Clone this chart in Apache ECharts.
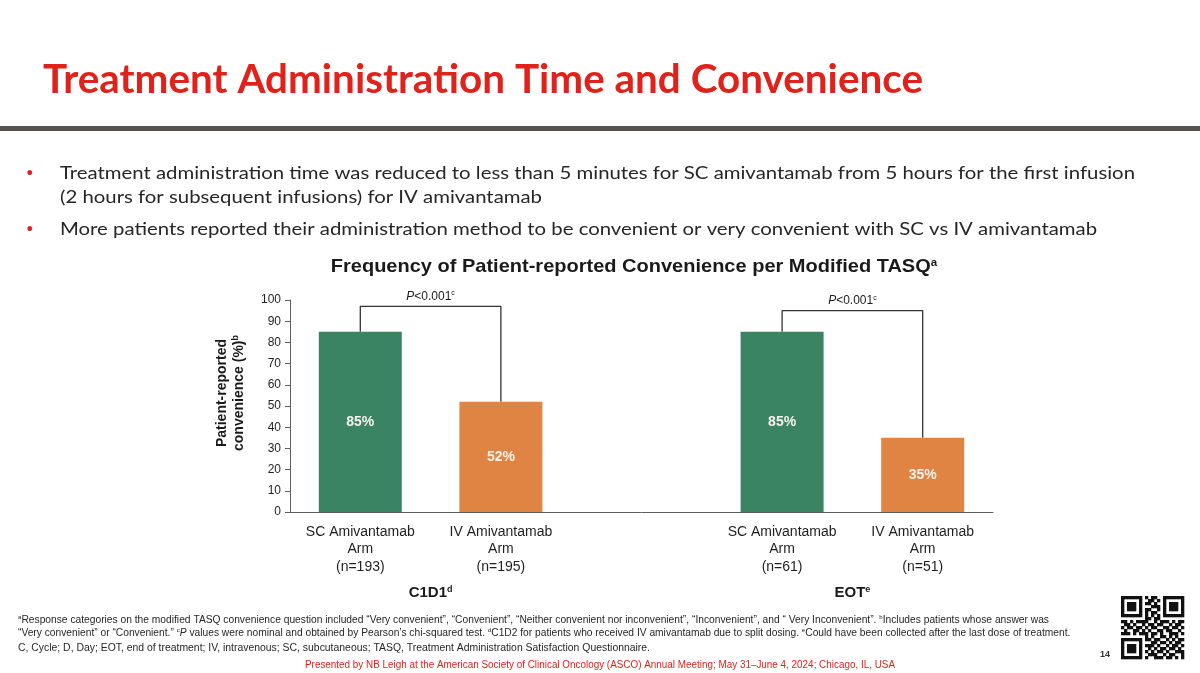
<!DOCTYPE html>
<html>
<head>
<meta charset="utf-8">
<script src="https://cdn.jsdelivr.net/npm/echarts@6/dist/echarts.min.js"></script>
<style>
html,body{margin:0;padding:0;background:#fff;}
#c{width:1200px;height:673px;}
</style>
</head>
<body>
<div id="c"></div>
<script>
// ---- data ----
const timepoints = ['C1D1', 'EOT'];
const timepointSup = ['d', 'e'];
const armNames = ['SC Amivantamab', 'IV Amivantamab'];
const nSC = [193, 61];
const nIV = [195, 51];
const scValues = [85, 85];
const ivValues = [52, 35];
const bracketLevels = [97, 95];
const pText = ['P<0.001', 'P<0.001'];
const yMin = 0, yMax = 100, yStep = 10;

// ---- build categories (with an empty spacer slot between time points) ----
const categories = [];
const scData = [];
const ivData = [];
timepoints.forEach((tp, g) => {
  if (g > 0) { categories.push(''); scData.push('-'); ivData.push('-'); }
  categories.push(armNames[0] + '\nArm\n(n=' + nSC[g] + ')');
  scData.push(scValues[g]); ivData.push('-');
  categories.push(armNames[1] + '\nArm\n(n=' + nIV[g] + ')');
  scData.push('-'); ivData.push(ivValues[g]);
});
const groupIdx = timepoints.map((tp, g) => [g * 3, g * 3 + 1]);

const GREEN = '#3a8363';
const ORANGE = '#df8443';
const RED = '#e0221b';
const AX = '#5e5e5e';
const FONT = '"Liberation Sans", Arial, sans-serif';

const bracketSeries = timepoints.map((tp, g) => ({
  type: 'line',
  data: [[groupIdx[g][0], scValues[g]], [groupIdx[g][0], bracketLevels[g]],
         [groupIdx[g][1], bracketLevels[g]], [groupIdx[g][1], ivValues[g]]],
  symbol: 'none',
  lineStyle: { color: '#333', width: 1.3 },
  z: 1,
  silent: true
}));

const barLabel = {
  show: true, position: 'inside', color: '#f6f3ea', fontSize: 14,
  fontWeight: 'bold', fontFamily: FONT, formatter: p => p.value + '%'
};

const chart = echarts.init(document.getElementById('c'));
chart.setOption({
  animation: false,
  backgroundColor: '#fff',
  grid: { left: 290, right: 207, top: 300, bottom: 161 },
  xAxis: {
    type: 'category', data: categories,
    axisLine: { lineStyle: { color: AX, width: 1 } },
    axisTick: { alignWithLabel: true, length: 4, lineStyle: { color: AX } },
    axisLabel: { interval: 0, color: '#1f1f1f', fontSize: 14, lineHeight: 17.5, margin: 11, fontFamily: FONT }
  },
  yAxis: {
    type: 'value', min: yMin, max: yMax, interval: yStep,
    axisLine: { show: true, lineStyle: { color: AX, width: 1 } },
    axisTick: { show: true, length: 5, lineStyle: { color: AX } },
    splitLine: { show: false },
    axisLabel: { color: '#1f1f1f', fontSize: 12, margin: 9, fontFamily: FONT }
  },
  series: [
    { type: 'bar', data: scData, barWidth: 83, barGap: '-100%', itemStyle: { color: GREEN }, label: barLabel, z: 2 },
    { type: 'bar', data: ivData, barWidth: 83, barGap: '-100%', itemStyle: { color: ORANGE }, label: barLabel, z: 2 }
  ].concat(bracketSeries)
});

// ---- text layout helpers ----
const mctx = document.createElement('canvas').getContext('2d');
function fitScale(text, font, target) { mctx.font = font; return target / mctx.measureText(text).width; }

const graphics = [];
function txt(x, y, text, opt) {
  graphics.push(Object.assign({
    type: 'text', x: x, y: y, silent: true,
    style: Object.assign({ text: text, verticalAlign: 'middle', align: 'left' }, opt.style || {})
  }, opt.el || {}));
}

// slide title
const titleText = 'Treatment Administration Time and Convenience';
const titleFont = 'bold 40px Lato';
const titleScale = fitScale(titleText, titleFont, 880);
txt(43, 80, titleText, { style: { font: titleFont, fill: RED }, el: { scaleX: titleScale } });

// rule
graphics.push({ type: 'rect', shape: { x: 0, y: 126, width: 1200, height: 5 }, style: { fill: '#57524d' }, silent: true });

// bullets
const bFont = '18px Lato';
const bullets = [
  [173, true, 'Treatment administration time was reduced to less than 5 minutes for SC amivantamab from 5 hours for the first infusion'],
  [197, false, '(2 hours for subsequent infusions) for IV amivantamab'],
  [229, true, 'More patients reported their administration method to be convenient or very convenient with SC vs IV amivantamab']
];
const bScale = fitScale(bullets[0][2], bFont, 1075);
bullets.forEach(b => {
  if (b[1]) txt(26, b[0], '•', { style: { font: '13px Lato', fill: RED } });
  txt(60, b[0], b[2], { style: { font: bFont, fill: '#262626' }, el: { scaleX: bScale } });
});

// chart title
const ctFont = 'bold 19px "Liberation Sans"';
const ctScale = fitScale('Frequency of Patient-reported Convenience per Modified TASQ', ctFont, 600);
txt(634, 267, '{t|Frequency of Patient-reported Convenience per Modified TASQ}{s|a}', {
  style: {
    align: 'center',
    rich: {
      t: { fontFamily: 'Liberation Sans', fontWeight: 'bold', fontSize: 19, fill: '#1a1a1a' },
      s: { fontFamily: 'Liberation Sans', fontWeight: 'bold', fontSize: 11, fill: '#1a1a1a', padding: [0, 0, 9, 0] }
    }
  },
  el: { scaleX: ctScale }
});

// y axis name
txt(231, 393, '{t|Patient-reported}\n{t|convenience (%)}{s|b}', {
  style: {
    align: 'center',
    rich: {
      t: { fontFamily: FONT, fontWeight: 'bold', fontSize: 14, fill: '#1a1a1a', lineHeight: 17 },
      s: { fontFamily: FONT, fontWeight: 'bold', fontSize: 9, fill: '#1a1a1a', lineHeight: 17, padding: [0, 0, 8, 0] }
    }
  },
  el: { rotation: Math.PI / 2 }
});

// bracket P labels and group labels, positioned with the chart's own scales
timepoints.forEach((tp, g) => {
  const a = chart.convertToPixel({ gridIndex: 0 }, [groupIdx[g][0], bracketLevels[g]]);
  const b = chart.convertToPixel({ gridIndex: 0 }, [groupIdx[g][1], bracketLevels[g]]);
  const cx = (a[0] + b[0]) / 2;
  const pm = pText[g].slice(1);
  txt(cx, a[1] - 10, '{i|P}{n|' + pm + '}{s|c}', {
    style: {
      align: 'center',
      rich: {
        i: { fontFamily: FONT, fontStyle: 'italic', fontSize: 12, fill: '#1a1a1a' },
        n: { fontFamily: FONT, fontSize: 12, fill: '#1a1a1a' },
        s: { fontFamily: FONT, fontSize: 7, fill: '#1a1a1a', padding: [0, 0, 6, 0] }
      }
    }
  });
  txt(cx, 593, '{t|' + tp + '}{s|' + timepointSup[g] + '}', {
    style: {
      align: 'center',
      rich: {
        t: { fontFamily: FONT, fontWeight: 'bold', fontSize: 15, fill: '#1a1a1a' },
        s: { fontFamily: FONT, fontWeight: 'bold', fontSize: 9, fill: '#1a1a1a', padding: [0, 0, 7, 0] }
      }
    }
  });
});

// footnotes
const fFont = '10px "Liberation Sans"';
const fScale = fitScale('C, Cycle; D, Day; EOT, end of treatment; IV, intravenous; SC, subcutaneous; TASQ, Treatment Administration Satisfaction Questionnaire.', fFont, 632);
const fRich = {
  n: { fontFamily: 'Liberation Sans', fontSize: 10, fill: '#262626' },
  i: { fontFamily: 'Liberation Sans', fontStyle: 'italic', fontSize: 10, fill: '#262626' },
  s: { fontFamily: 'Liberation Sans', fontSize: 6, fill: '#262626', padding: [0, 0, 5, 0] }
};
const footLines = [
  [620, 0.984, '{s|a}{n|Response categories on the modified TASQ convenience question included \u201cVery convenient\u201d, \u201cConvenient\u201d, \u201cNeither convenient nor inconvenient\u201d, \u201cInconvenient\u201d, and \u201c Very Inconvenient\u201d. }{s|b}{n|Includes patients whose answer was}'],
  [633, 0.983, '{n|\u201cVery convenient\u201d or \u201cConvenient.\u201d }{s|c}{i|P}{n| values were nominal and obtained by Pearson\u2019s chi-squared test. }{s|d}{n|C1D2 for patients who received IV amivantamab due to split dosing. }{s|e}{n|Could have been collected after the last dose of treatment.}'],
  [648, 1, '{n|C, Cycle; D, Day; EOT, end of treatment; IV, intravenous; SC, subcutaneous; TASQ, Treatment Administration Satisfaction Questionnaire.}']
];
footLines.forEach(l => {
  txt(18, l[0], l[2], { style: { rich: fRich }, el: { scaleX: fScale * l[1] } });
});

const presText = 'Presented by NB Leigh at the American Society of Clinical Oncology (ASCO) Annual Meeting; May 31\u2013June 4, 2024; Chicago, IL, USA';
const pScale = fitScale(presText, fFont, 590);
txt(600, 665, presText, { style: { font: fFont, fill: RED, align: 'center' }, el: { scaleX: pScale } });

txt(1105, 655, '14', { style: { font: 'bold 9px "Liberation Sans"', fill: '#333', align: 'center' } });

// QR-like decoration
const qr = [
  '111111101011001111111','100000100110101000001','101110101101001011101','101110100011101011101',
  '101110101100101011101','100000101011001000001','111111101010101111111','000000001101100000000',
  '110101111001011101011','011010010110110010110','101101101011001101101','010011010100110110010',
  '111010111011010011101','000000001010011010100','111111101101100101011','100000100011011010110',
  '101110101110100101101','101110100101011011010','101110101010110100111','100000100111001011001',
  '111111101001110110101'
];
const qx = 1121, qy = 596, qs = 63 / 21;
qr.forEach((row, r) => {
  for (let c = 0; c < row.length; c++) {
    if (row[c] === '1') graphics.push({ type: 'rect', silent: true,
      shape: { x: qx + c * qs, y: qy + r * qs, width: qs + 0.3, height: qs + 0.3 }, style: { fill: '#111' } });
  }
});

chart.setOption({ graphic: { elements: graphics } });
</script>
</body>
</html>
